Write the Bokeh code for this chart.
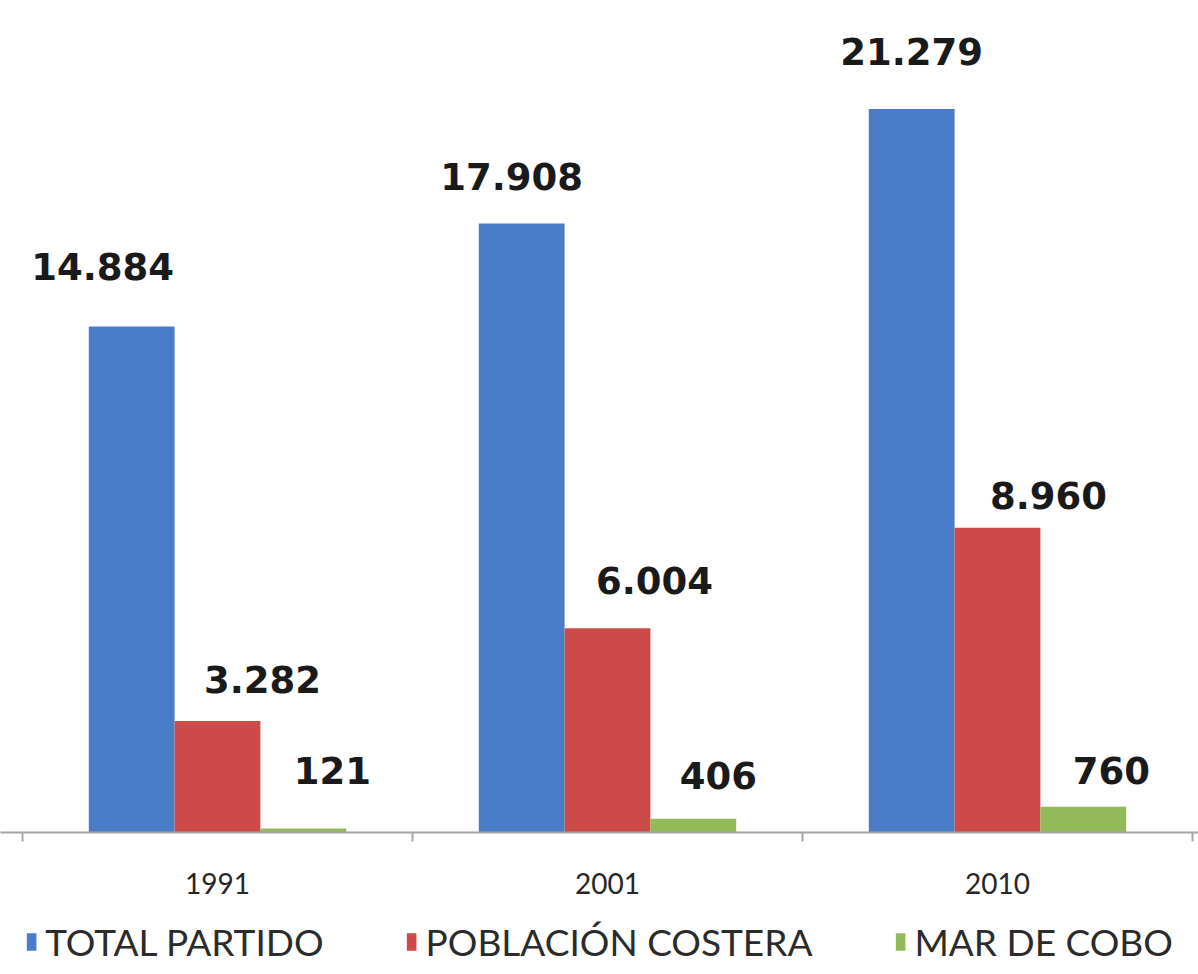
from bokeh.plotting import figure
from bokeh.models import ColumnDataSource, Range1d, FixedTicker, Legend, LegendItem
from bokeh.layouts import column
from bokeh.transform import dodge
from bokeh.embed import file_html
from bokeh.resources import INLINE

# ---- data ----
years = ["1991", "2001", "2010"]
series_names = ["TOTAL PARTIDO", "POBLACIÓN COSTERA", "MAR DE COBO"]
total_partido = [14884, 17908, 21279]
poblacion_costera = [3282, 6004, 8960]
mar_de_cobo = [121, 406, 760]

# ---- style ----
colors = ["#4A7DC9", "#CC4A47", "#93BA5A"]
bar_w = 0.22
offsets = [-bar_w, 0.0, bar_w]
# pixel nudges of the data labels (label placement as in the source chart)
label_dx = [[-29, -10, 0], [45, 47, 51], [29, 25, 28]]
label_dy = [[-60, -47, -57], [-41, -48, -32], [-58, -43, -36]]

W = 1198


def fmt(v):
    return f"{v:,}".replace(",", ".")


x_centers = [i + 0.5 for i in range(len(years))]
all_series = [total_partido, poblacion_costera, mar_de_cobo]

p = figure(frame_width=W, frame_height=832, output_backend="svg", toolbar_location=None,
           x_range=Range1d(-0.0564, 3.0154), y_range=Range1d(0, 24470),
           min_border_left=0, min_border_right=0, min_border_top=0, min_border_bottom=84)
p.outline_line_color = None
p.grid.visible = False
p.yaxis.visible = False
p.background_fill_color = "white"

sources = []
for k, vals in enumerate(all_series):
    src = ColumnDataSource(dict(
        x=x_centers, top=vals, lab=[fmt(v) for v in vals],
        dx=label_dx[k], dy=label_dy[k]))
    sources.append(src)
    p.vbar(x=dodge("x", offsets[k], range=p.x_range), top="top", bottom=0,
           width=bar_w, source=src, fill_color=colors[k], line_color=None)
    p.text(x=dodge("x", offsets[k], range=p.x_range), y="top", text="lab", source=src,
           x_offset="dx", y_offset="dy", text_align="center", text_baseline="middle",
           text_font={"value": "DejaVu Sans"}, text_font_style="bold",
           text_font_size="37px", text_color="#1a1a1a")

ax = p.xaxis[0]
ax.ticker = FixedTicker(ticks=x_centers, minor_ticks=list(range(len(years) + 1)))
ax.major_label_overrides = {x: y for x, y in zip(x_centers, years)}
ax.axis_line_color = "#a6a6a6"
ax.axis_line_width = 2
ax.major_tick_line_color = None
ax.major_tick_out = 0
ax.major_tick_in = 0
ax.minor_tick_line_color = "#a6a6a6"
ax.minor_tick_line_width = 2
ax.minor_tick_out = 9
ax.minor_tick_in = 0
ax.major_label_standoff = 31
ax.major_label_text_font = "Lato"
ax.major_label_text_font_size = "28px"
ax.major_label_text_color = "#262626"

# ---- legend strip (same series; its view range keeps the bars out of sight) ----
lg = figure(frame_width=W, frame_height=50, output_backend="svg", toolbar_location=None,
            x_range=Range1d(100, 101), y_range=Range1d(1e6, 2e6),
            min_border_left=0, min_border_right=0, min_border_top=0, min_border_bottom=0)
lg.outline_line_color = None
lg.grid.visible = False
lg.axis.visible = False
items = []
for k in range(len(series_names)):
    r = lg.vbar(x="x", top="top", bottom=0, width=bar_w, source=sources[k],
                fill_color=colors[k], line_color=None)
    items.append(LegendItem(label=series_names[k], renderers=[r]))
legend = Legend(items=items, orientation="horizontal", location="center",
                border_line_color=None, background_fill_alpha=0,
                label_text_font="Lato", label_text_font_size="37px",
                label_text_color="#2b2b2b", glyph_width=12, glyph_height=22,
                label_standoff=8, spacing=82, padding=0, margin=0)
lg.add_layout(legend, "center")

open("out.html", "w").write(file_html(column(p, lg, spacing=0), INLINE))
